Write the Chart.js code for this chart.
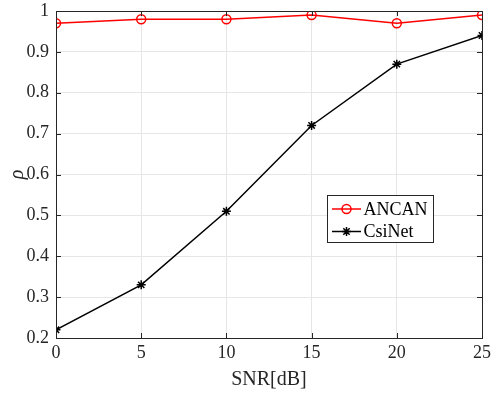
<!DOCTYPE html>
<html>
<head>
<meta charset="utf-8">
<script src="https://cdn.jsdelivr.net/npm/chart.js@4/dist/chart.umd.min.js"></script>
<style>
  html, body { margin: 0; padding: 0; background: #fff; }
  #wrap { width: 491px; height: 394px; }
</style>
</head>
<body>
<div id="wrap"><canvas id="rho"></canvas></div>
<script>
const snr = [0, 5, 10, 15, 20, 25];
const ancan = [0.97, 0.98, 0.98, 0.99, 0.97, 0.99];
const csinet = [0.22, 0.33, 0.51, 0.72, 0.87, 0.94];
const xTicks = [0, 5, 10, 15, 20, 25];
const yTicks = [0.2, 0.3, 0.4, 0.5, 0.6, 0.7, 0.8, 0.9, 1];
const seriesNames = ['ANCAN', 'CsiNet'];

const serif = 'Liberation Serif, Times New Roman, serif';
const axisColor = '#262626';

// matlab style box with inward ticks on every side
const boxPlugin = {
  id: 'box',
  afterDraw(chart) {
    const {ctx, chartArea: a, scales: {x, y}} = chart;
    ctx.save();
    ctx.strokeStyle = axisColor;
    ctx.lineWidth = 1;
    ctx.strokeRect(Math.round(a.left) + 0.5, Math.round(a.top) + 0.5,
      Math.round(a.right - a.left), Math.round(a.bottom - a.top));
    const t = 5;
    ctx.beginPath();
    xTicks.forEach(v => {
      const px = Math.round(x.getPixelForValue(v)) + 0.5;
      ctx.moveTo(px, a.bottom); ctx.lineTo(px, a.bottom - t);
      ctx.moveTo(px, a.top); ctx.lineTo(px, a.top + t);
    });
    yTicks.forEach(v => {
      const py = Math.round(y.getPixelForValue(v)) + 0.5;
      ctx.moveTo(a.left, py); ctx.lineTo(a.left + t, py);
      ctx.moveTo(a.right, py); ctx.lineTo(a.right - t, py);
    });
    ctx.stroke();
    ctx.restore();
  }
};

// legend box inside the axes
const legendPlugin = {
  id: 'boxLegend',
  afterDraw(chart) {
    const {ctx, chartArea: a} = chart;
    const bx = Math.round(a.left) + 271.5, by = Math.round(a.top) + 184.5, bw = 106, bh = 47;
    ctx.save();
    ctx.fillStyle = '#fff';
    ctx.fillRect(bx, by, bw, bh);
    ctx.strokeStyle = axisColor;
    ctx.lineWidth = 1;
    ctx.strokeRect(bx, by, bw, bh);
    ctx.font = '18px ' + serif;
    ctx.textBaseline = 'middle';
    chart.data.datasets.forEach((ds, i) => {
      const cy = by + 13.5 + i * 22.5;
      const x0 = bx + 4.5, x1 = bx + 33.5, mx = (x0 + x1) / 2;
      ctx.strokeStyle = ds.borderColor;
      ctx.lineWidth = 1.5;
      ctx.beginPath(); ctx.moveTo(x0, cy); ctx.lineTo(x1, cy); ctx.stroke();
      ctx.fillStyle = ds.pointBackgroundColor;
      Chart.helpers.drawPoint(ctx, {
        pointStyle: ds.pointStyle, radius: ds.pointRadius, rotation: 0,
        borderWidth: ds.pointBorderWidth
      }, mx, cy);
      ctx.fillStyle = '#000';
      ctx.fillText(ds.label, bx + 36, cy + 1);
    });
    ctx.restore();
  }
};

const noPad = s => { s.paddingTop = 0; s.paddingBottom = 0; s.paddingLeft = 0; s.paddingRight = 0; };

new Chart('rho', {
  type: 'line',
  data: {
    datasets: [{
      label: seriesNames[0],
      data: snr.map((s, i) => ({x: s, y: ancan[i]})),
      borderColor: '#ff0000',
      borderWidth: 1.5,
      pointStyle: 'circle',
      pointRadius: 4.5,
      pointBorderWidth: 1.5,
      pointBackgroundColor: 'rgba(255,255,255,0)',
      pointBorderColor: '#ff0000',
      tension: 0,
      fill: false
    }, {
      label: seriesNames[1],
      data: snr.map((s, i) => ({x: s, y: csinet[i]})),
      borderColor: '#000000',
      borderWidth: 1.5,
      pointStyle: 'star',
      pointRadius: 4.5,
      pointBorderWidth: 1.5,
      pointBackgroundColor: '#000000',
      pointBorderColor: '#000000',
      tension: 0,
      fill: false
    }]
  },
  options: {
    responsive: true,
    maintainAspectRatio: false,
    animation: false,
    layout: { padding: { top: 11, right: 9, left: 0, bottom: 0 } },
    plugins: {
      legend: { display: false },
      tooltip: { enabled: false }
    },
    scales: {
      x: {
        type: 'linear',
        min: 0, max: 25,
        afterBuildTicks: s => { s.ticks = xTicks.map(v => ({value: v})); },
        afterFit: s => { s.height = 56; noPad(s); },
        grid: { color: '#e6e6e6', drawTicks: false },
        border: { display: false },
        ticks: {
          color: axisColor, padding: 4,
          font: { family: serif, size: 18 },
          maxRotation: 0
        },
        title: {
          display: true, text: 'SNR[dB]', color: axisColor,
          font: { family: serif, size: 20 },
          padding: { top: 2, bottom: 2 }
        }
      },
      y: {
        min: 0.2, max: 1,
        afterBuildTicks: s => { s.ticks = yTicks.map(v => ({value: v})); },
        afterFit: s => { s.width = 56; noPad(s); },
        grid: { color: '#e6e6e6', drawTicks: false },
        border: { display: false },
        ticks: {
          color: axisColor, padding: 7,
          font: { family: serif, size: 18 },
          callback: v => String(Math.round(v * 10) / 10)
        },
        title: {
          display: true, text: 'ρ', color: axisColor,
          font: { family: serif, size: 20, style: 'italic' },
          padding: { top: 6, bottom: 4 }
        }
      }
    }
  },
  plugins: [boxPlugin, legendPlugin]
});
</script>
</body>
</html>
